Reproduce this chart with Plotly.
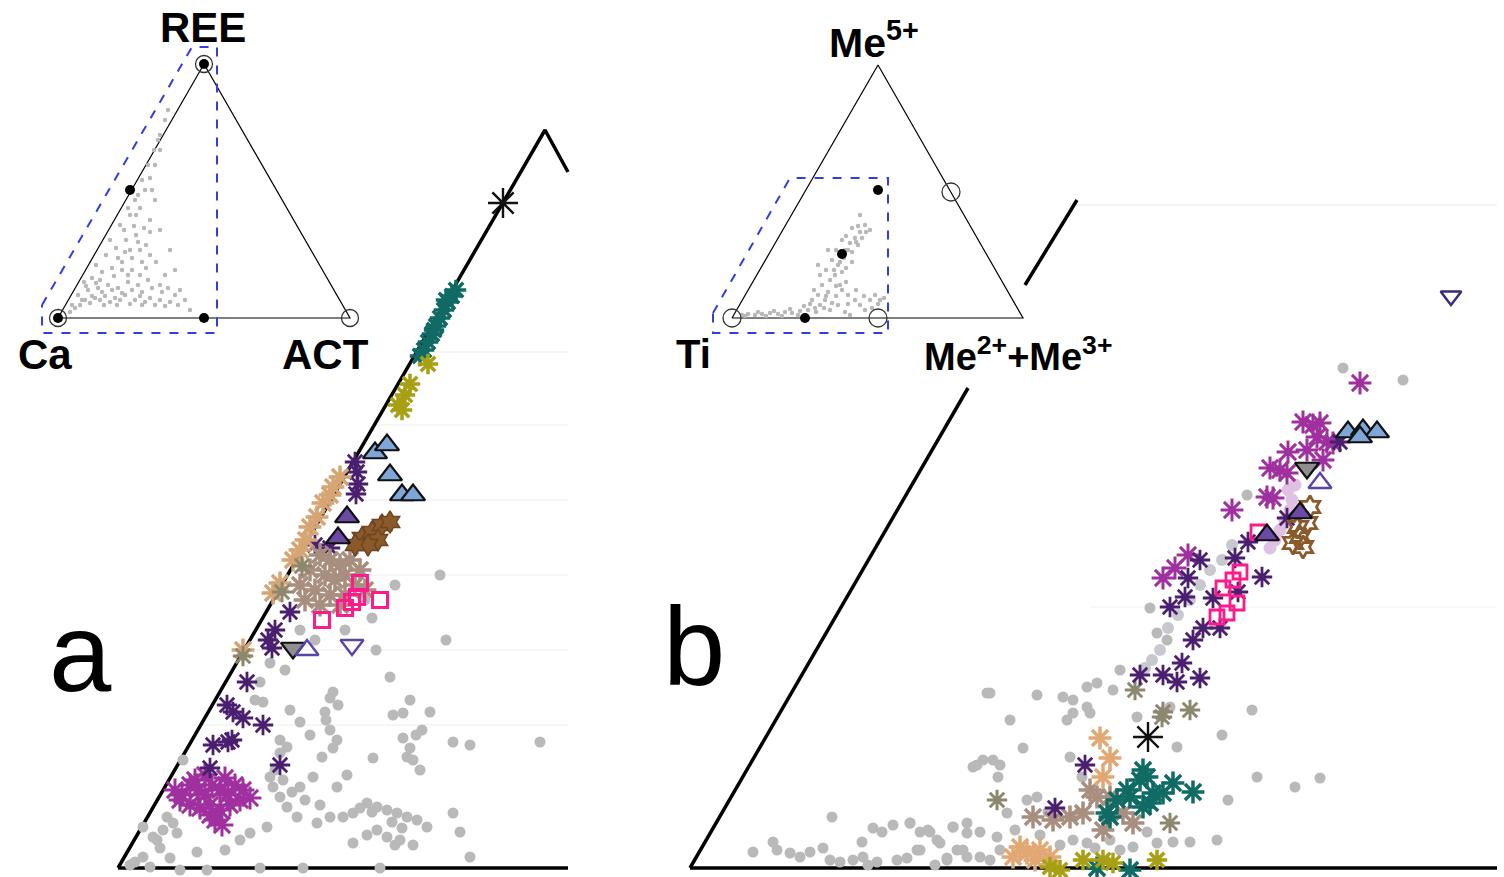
import plotly.graph_objects as go

# ---------------- data (chart units: x to the right, y downward) ----------------
# Panel a frame
a_edge_x = [118, 545, 568]
a_edge_y = [868, 130, 172]
a_base_x = [118, 568]
a_base_y = [868, 868]
a_grid_y = [352, 425, 500, 575, 650, 725]

# Panel b frame
b_edge1_x = [690, 968]
b_edge1_y = [868, 388]
b_edge2_x = [1025, 1077]
b_edge2_y = [285, 200]
b_base_x = [690, 1497]
b_base_y = [868, 868]

# Inset a (REE - Ca - ACT)
ia_tri_x = [58, 204, 350, 58]
ia_tri_y = [318, 64, 318, 318]
ia_box_x = [42, 192, 217, 217, 42, 42]
ia_box_y = [305, 47, 47, 333, 333, 305]
ia_dot_x = [204, 58, 130, 204]
ia_dot_y = [64, 318, 190, 318]
ia_ring_x = [204, 58, 350]
ia_ring_y = [64, 318, 318]
ia_gray = [(70,312),(75,308),(80,305),(85,300),(90,303),(95,298),(100,300),(105,296),(110,302),(115,298),
           (120,300),(125,295),(130,304),(135,300),(140,296),(145,302),(150,298),(155,305),(160,300),(165,306),
           (170,302),(78,295),(88,290),(98,288),(108,285),(118,288),(128,282),(138,285),(148,280),(92,278),
           (102,272),(112,268),(122,262),(132,270),(142,262),(106,255),(116,248),(126,240),(136,235),(146,245),
           (120,225),(130,215),(140,208),(150,220),(135,200),(145,190),(150,178),(155,165),(160,150),(160,135),
           (165,120),(168,110),(155,200),(160,230),(170,250),(175,270),(180,290),(165,275),(185,300),(190,310),
           (150,255),(160,285),(84,282),(96,265),(110,240),(125,252),(140,275),(175,295),
           (82,300),(92,296),(102,292),(112,290),(122,293),(132,290),(142,292),(152,288),(162,292),(72,305),
           (86,286),(100,280),(114,276),(128,275),(118,258),(130,250),(140,250),(124,230),(134,226),(144,228),
           (128,208),(138,195),(142,180),(148,165),(154,150),(158,140),(150,232),(156,262),(168,288),(178,305),
           (138,242),(132,258),(146,268),(104,305),(117,305),(142,305),(96,283),(122,270),(136,215),(152,190)]

# Inset b (Me5+ - Ti - Me2++Me3+)
ib_tri_x = [732, 878, 1023, 732]
ib_tri_y = [318, 65, 318, 318]
ib_box_x = [713, 790, 888, 888, 713, 713]
ib_box_y = [313, 178, 178, 333, 333, 313]
ib_dot_x = [878, 842, 805]
ib_dot_y = [190, 254, 318]
ib_ring_x = [732, 878, 951]
ib_ring_y = [318, 318, 192]
ib_gray = [(742,315),(748,314),(755,315),(762,314),(770,313),(778,314),(785,312),(792,313),(800,311),(808,310),
           (815,308),(820,305),(825,300),(812,300),(818,295),(828,292),(822,285),(830,280),(835,275),(826,270),
           (838,265),(832,260),(845,250),(850,243),(855,238),(860,232),(852,228),(858,245),(840,285),(848,295),
           (855,300),(860,305),(865,310),(838,305),(830,310),(845,312),(850,315),(870,300),(880,300),(875,295),
           (820,275),(818,265),(828,250),(842,240),(865,225),(860,215),(870,230),
           (745,316),(758,312),(766,316),(774,311),(782,316),(790,309),(798,315),(804,306),(810,304),(816,312),
           (824,308),(832,303),(836,296),(842,290),(846,282),(836,286),(826,296),(814,290),(834,270),(840,262),
           (844,258),(848,250),(852,252),(856,242),(862,238),(866,232),(846,268),(852,262),(842,272),(848,304),
           (856,290),(864,296),(872,308),(878,304),(884,298),(836,250),(846,236),(858,226)]

# Panel a series
a_gray = [(270,663),(260,682),(263,702),(300,722),(333,692),(330,698),(325,712),(330,730),(337,740),(333,748),
          (322,757),(287,747),(280,753),(270,777),(273,787),(280,797),(287,807),(297,817),(300,787),(313,777),
          (337,787),(347,775),(373,758),(390,677),(393,715),(403,713),(430,712),(422,730),(403,738),(407,757),
          (413,760),(420,770),(453,742),(320,805),(330,817),(343,817),(353,813),(367,803),(377,807),(387,810),
          (397,813),(407,817),(417,820),(427,827),(377,830),(387,837),(400,840),(413,845),(353,843),(317,823),
          (267,827),(250,833),(453,813),(460,832),(470,857),(197,852),(180,870),(207,870),(260,868),(303,868),
          (380,868),(143,857),(153,837),(167,817),(183,760),(143,827),(150,867),(157,840),(173,823),(177,833),
          (440,575),(446,640),(376,650),(540,742),(365,600),(395,585),(372,618),(300,630),(315,640),(285,670),
          (345,630),(470,745),(410,700),(255,700),(290,710),(310,735),(240,840),(225,850),
          (275,770),(283,780),(292,792),(305,800),(360,808),(372,812),(392,822),(402,828),(367,835),(395,845),
          (160,848),(170,858),(135,862),(163,830),(280,740),(326,720),(338,705),(410,748),(416,735),(130,865)]
a_black = [(503,203)]
a_teal = [(456,290),(452,296),(448,302),(444,310),(440,318),(436,326),(432,334),(428,342),(424,350),(420,356),(446,300),(434,330)]
a_olive = [(428,364),(410,384),(405,395),(398,405),(402,410)]
a_blue_tri = [(375,453),(387,445),(390,475),(402,495),(413,495)]
a_purple_tri = [(347,517),(338,538)]
a_dkpurple = [(355,462),(357,472),(358,484),(356,494),(315,545),(330,548),(290,612),(275,630),(268,640),(272,648),
              (247,682),(227,705),(233,712),(243,718),(263,725),(213,745),(228,742),(232,740),(280,765),(210,768)]
a_magenta = [(175,790),(182,795),(190,785),(198,790),(205,795),(212,785),(220,790),(228,795),(235,785),(243,790),
             (190,805),(200,808),(210,805),(220,810),(230,805),(240,800),(215,820),(222,825),(210,815),(250,798),
             (180,800),(195,780),(205,775),(225,778)]
a_tan = [(340,477),(333,487),(323,503),(317,517),(310,527),(300,550),(293,560),(280,583),(273,593),(243,650),(330,495),(306,540)]
a_taupe = [(320,555),(330,560),(340,565),(350,560),(310,570),(325,575),(335,580),(345,575),(355,585),(315,590),
           (330,595),(345,595),(305,600),(320,605),(340,605),(360,570),(365,590),(300,585)]
a_olivegray = [(243,656),(302,566),(282,592)]
a_brown = [(362,538),(372,532),(382,525),(378,540),(368,545),(355,545),(390,522)]
a_pink = [(360,583),(380,600),(352,602),(345,608),(322,620),(357,597)]
a_graytri_dn = [(293,648)]
a_opentri_up = [(307,650)]
a_opentri_dn = [(352,645)]

# Panel b series
b_gray = [(990,693),(1037,695),(1063,697),(1073,700),(1087,687),(1097,683),(1113,690),(1120,670),(1010,720),(1067,720),
          (1073,713),(1087,707),(1090,713),(1137,717),(1177,747),(1222,735),(1252,710),(1257,777),(1295,787),(1228,800),
          (1023,748),(977,765),(993,760),(1000,765),(998,777),(1070,757),(1082,777),(1027,800),(1037,797),(1007,813),
          (910,823),(920,832),(930,832),(953,827),(967,823),(980,832),(997,837),(940,843),(957,850),(917,850),
          (947,858),(967,857),(980,857),(1073,840),(1087,843),(1120,850),(1133,847),(1147,832),(1157,843),(1173,842),
          (1190,842),(1217,840),(1170,707),(832,817),(753,852),(773,842),(777,850),(790,853),(800,857),(810,852),
          (823,848),(830,860),(840,862),(853,860),(863,857),(862,842),(873,828),(882,832),(893,825),(910,823),
          (897,860),(907,858),(920,850),(928,830),(937,840),(953,827),(967,833),(973,767),(983,760),(987,693),
          (947,860),(963,850),(877,862),(1343,368),(1403,380),(1247,495),(1320,778),(1150,608),(1157,633),(1167,640),
          (1060,845),(1095,848),(1110,840),(1040,835),(1015,830),(1048,812),(1000,850),(990,860),(935,865),(868,865)]
b_band = [(1160,650),(1168,628),(1178,615),(1190,600),(1200,585),(1210,570),(1222,560),(1232,545),(1145,668),(1152,660)]
b_lilac = [(1275,540),(1280,530),(1285,520),(1290,510),(1292,500),(1288,490),(1295,485),(1270,548)]
b_black = [(1148,737)]
b_magenta = [(1360,383),(1303,422),(1313,425),(1320,423),(1317,437),(1327,442),(1333,443),(1288,452),(1307,450),
             (1270,468),(1280,470),(1287,473),(1323,460),(1267,497),(1273,498),(1232,510),(1188,555),(1175,568),(1163,578)]
b_dkpurple = [(1340,442),(1287,518),(1248,542),(1235,558),(1200,560),(1188,578),(1185,597),(1170,607),(1262,577),
              (1238,592),(1213,598),(1203,628),(1220,628),(1193,640),(1140,675),(1163,675),(1182,663),(1177,682),
              (1200,678),(1085,765),(1055,808)]
b_olivegray = [(1135,690),(1163,712),(1190,710),(1162,717),(997,800),(1170,823)]
b_tan = [(1100,738),(1110,758),(1103,777),(1027,853),(1040,850),(1020,847),(1013,857),(1050,857),(1035,860)]
b_taupe = [(1090,790),(1083,813),(1070,817),(1097,797),(1110,797),(1033,817),(1053,820),(1123,813),(1103,830),(1133,823)]
b_teal = [(1143,770),(1147,777),(1140,780),(1127,790),(1130,797),(1117,800),(1107,813),(1110,817),(1153,793),
          (1163,793),(1173,783),(1193,792),(1143,807),(1150,803),(1097,868),(1130,870)]
b_olive = [(1050,867),(1060,870),(1083,860),(1103,860),(1113,863),(1157,860)]
b_blue_tri = [(1348,432),(1363,430),(1377,432),(1360,437)]
b_graytri_dn = [(1307,468)]
b_opentri_up = [(1320,483)]
b_purple_tri = [(1300,513),(1267,535)]
b_brown = [(1310,507),(1300,537),(1303,547),(1293,543),(1307,523),(1298,527)]
b_pink = [(1240,572),(1233,580),(1223,588),(1237,603),(1227,613),(1217,617),(1258,532)]
b_opentri_dn = [(1451,296)]

# Labels
labels = [("REE", 203, 27, 42), ("Ca", 45, 354, 42), ("ACT", 325, 354, 42),
          ("Me<sup>5+</sup>", 874, 40, 41), ("Ti", 693, 354, 40), ("Me<sup>2+</sup>+Me<sup>3+</sup>", 1018, 354, 38)]
panel_letters = [("a", 80, 652), ("b", 694, 646)]

# ---------------- figure ----------------
fig = go.Figure()

def line(x, y, color="black", width=3, dash="solid"):
    fig.add_trace(go.Scatter(x=x, y=y, mode="lines", line=dict(color=color, width=width, dash=dash),
                             hoverinfo="skip", showlegend=False))

def pts(data, symbol, size, color, lw=0, lcolor=None, opacity=1.0):
    xs = [p[0] for p in data]
    ys = [p[1] for p in data]
    fig.add_trace(go.Scatter(x=xs, y=ys, mode="markers", opacity=opacity,
                             marker=dict(symbol=symbol, size=size, color=color,
                                         line=dict(width=lw, color=lcolor if lcolor else color)),
                             hoverinfo="skip", showlegend=False))

# faint grid
for gy in a_grid_y:
    x0 = 118 + (868 - gy) * (545 - 118) / (868 - 130)
    line([x0, 568], [gy, gy], color="#ededed", width=1)
line([1077, 1497], [205, 205], color="#e8e8e8", width=1)
line([1090, 1497], [607, 607], color="#f3f3f3", width=1)

# frames
line(a_edge_x, a_edge_y, width=3.5)
line(a_base_x, a_base_y, width=3.5)
line(b_edge1_x, b_edge1_y, width=3.5)
line(b_edge2_x, b_edge2_y, width=3.5)
line(b_base_x, b_base_y, width=3.5)

# insets
line(ia_tri_x, ia_tri_y, width=1.2)
line(ia_box_x, ia_box_y, color="#2f3fe0", width=2, dash="dash")
pts(ia_gray, "circle", 4.5, "#b8b8b8")
pts(list(zip(ia_ring_x, ia_ring_y)), "circle-open", 17, "#333333", lw=1.3)
pts(list(zip(ia_dot_x, ia_dot_y)), "circle", 10, "black")

line(ib_tri_x, ib_tri_y, width=1.2)
line(ib_box_x, ib_box_y, color="#2f3fe0", width=2, dash="dash")
pts(ib_gray, "circle", 4.5, "#b8b8b8")
pts(list(zip(ib_ring_x, ib_ring_y)), "circle-open", 18, "#333333", lw=1.3)
pts(list(zip(ib_dot_x, ib_dot_y)), "circle", 10, "black")

# panel a markers
pts(a_gray, "circle", 11, "#b9b9b9")
pts(a_magenta, "asterisk-open", 19, "#a0309f", lw=3)
pts(a_dkpurple, "asterisk-open", 17, "#4a1f70", lw=2.8)
pts(a_tan, "asterisk-open", 19, "#d7a574", lw=3.5)
pts(a_taupe, "asterisk-open", 19, "#a88e7e", lw=3.5)
pts(a_olivegray, "asterisk-open", 17, "#8c8870", lw=3)
pts(a_brown, "hexagram", 17, "#8b5a2b", lw=1.5, lcolor="#6e4520")
pts(a_teal, "asterisk-open", 17, "#0f6b64", lw=3.5)
pts(a_olive, "asterisk-open", 17, "#a8a014", lw=3.5)
pts(a_black, "asterisk-open", 25, "#111111", lw=2.4)
pts(a_pink, "square-open", 15, "#ff1a8c", lw=3)
pts(a_blue_tri, "triangle-up", 21, "#7ea6d9", lw=2.2, lcolor="#111111")
pts(a_purple_tri, "triangle-up", 21, "#6a4aa4", lw=2.2, lcolor="#111111")
pts(a_graytri_dn, "triangle-down", 21, "#8f8f8f", lw=2.2, lcolor="#111111")
pts(a_opentri_up, "triangle-up-open", 20, "#5a44a8", lw=2.4)
pts(a_opentri_dn, "triangle-down-open", 20, "#5a44a8", lw=2.4)

# panel b markers
pts(b_gray, "circle", 11, "#b9b9b9")
pts(b_band, "circle", 12, "#c8c8cf")
pts(b_lilac, "circle", 13, "#d4a8d8", opacity=0.7)
pts(b_taupe, "asterisk-open", 19, "#a88e7e", lw=3.5)
pts(b_tan, "asterisk-open", 19, "#e2a874", lw=3.5)
pts(b_olivegray, "asterisk-open", 17, "#8c8870", lw=3)
pts(b_teal, "asterisk-open", 19, "#0f6b64", lw=3.5)
pts(b_olive, "asterisk-open", 17, "#a8a014", lw=3.5)
pts(b_magenta, "asterisk-open", 19, "#a0309f", lw=3)
pts(b_dkpurple, "asterisk-open", 17, "#4a1f70", lw=2.8)
pts(b_black, "asterisk-open", 25, "#111111", lw=2.4)
pts(b_brown, "hexagram-open", 17, "#8b5a2b", lw=2.8)
pts(b_pink, "square-open", 14, "#ff1a8c", lw=2.8)
pts(b_blue_tri, "triangle-up", 21, "#7ea6d9", lw=2.2, lcolor="#111111")
pts(b_purple_tri, "triangle-up", 21, "#6a4aa4", lw=2.2, lcolor="#111111")
pts(b_graytri_dn, "triangle-down", 21, "#8f8f8f", lw=2.2, lcolor="#111111")
pts(b_opentri_up, "triangle-up-open", 20, "#5a44a8", lw=2.4)
pts(b_opentri_dn, "triangle-down-open", 18, "#3a2a7a", lw=2.4)

annotations = []
for txt, x, y, s in labels:
    annotations.append(dict(x=x, y=y, xref="x", yref="y", text=txt, showarrow=False,
                            font=dict(family="Liberation Sans, Arial, sans-serif", size=s, color="black",
                                      weight="bold"),
                            xanchor="center", yanchor="middle"))
for txt, x, y in panel_letters:
    annotations.append(dict(x=x, y=y, xref="x", yref="y", text=txt, showarrow=False,
                            font=dict(family="Liberation Sans, Arial, sans-serif", size=112, color="black"),
                            xanchor="center", yanchor="middle"))

fig.update_layout(
    width=1504, height=877, margin=dict(l=0, r=0, t=0, b=0),
    paper_bgcolor="white", plot_bgcolor="white",
    xaxis=dict(range=[0, 1504], visible=False, fixedrange=True),
    yaxis=dict(range=[877, 0], visible=False, fixedrange=True),
    annotations=annotations, showlegend=False,
)
fig.write_html("out.html")
